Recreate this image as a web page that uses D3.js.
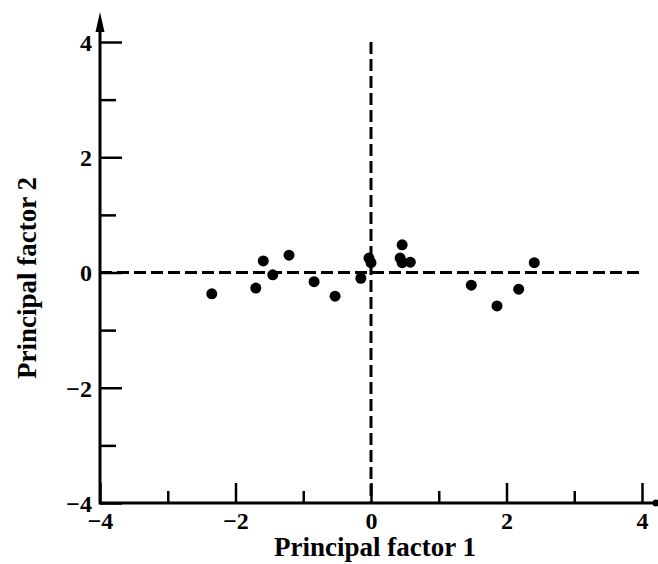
<!DOCTYPE html>
<html lang="en">
<head>
<meta charset="UTF-8">
<title>Principal factors</title>
<style>
  body { margin: 0; background: #fff; }
  text { font-family: "Liberation Serif", "Times New Roman", serif; font-weight: bold; fill: #000; }
</style>
</head>
<body>
<div class="container"></div>
<script src="https://cdn.jsdelivr.net/npm/d3@7/dist/d3.min.js"></script>
<script>
// data
const factor1 = [-2.35, -1.70, -1.59, -1.45, -1.21, -0.84, -0.53, -0.15, -0.03, 0.0, 0.46, 0.43, 0.46, 0.58, 1.48, 1.86, 2.18, 2.41]
const factor2 = [-0.37, -0.27, 0.20, -0.04, 0.30, -0.16, -0.41, -0.10, 0.25, 0.17, 0.48, 0.25, 0.17, 0.18, -0.22, -0.58, -0.29, 0.17]
const majorTicks = [-4, -2, 0, 2, 4]
const minorTicks = [-3, -1, 1, 3]

const width = 658
const height = 564

const svg = d3.select('.container').append('svg')
    .attr('width', width)
    .attr('height', height)

const x = d3.scaleLinear().domain([-4, 4]).range([100, 642])
const y = d3.scaleLinear().domain([-4, 4]).range([503, 42])

const fmt = d => d3.format('d')(d).replace('-', '\u2212')

// x axis
const xMajor = svg.append('g').attr('transform', `translate(0,${y(-4)})`)
    .call(d3.axisBottom(x).tickValues(majorTicks).tickSizeInner(-20).tickSizeOuter(0).tickFormat(fmt))
const xMinor = svg.append('g').attr('transform', `translate(0,${y(-4)})`)
    .call(d3.axisBottom(x).tickValues(minorTicks).tickSizeInner(-12).tickSizeOuter(0).tickFormat(''))

// y axis
const yMajor = svg.append('g').attr('transform', `translate(${x(-4)},0)`)
    .call(d3.axisLeft(y).tickValues(majorTicks).tickSizeInner(-22).tickSizeOuter(0).tickFormat(fmt))
const yMinor = svg.append('g').attr('transform', `translate(${x(-4)},0)`)
    .call(d3.axisLeft(y).tickValues(minorTicks).tickSizeInner(-16).tickSizeOuter(0).tickFormat(''))

svg.selectAll('.domain').remove()
svg.selectAll('.tick line').attr('stroke', '#000').attr('stroke-width', 2.5)

xMajor.selectAll('text').attr('y', 26).attr('dy', 0).attr('font-size', 24)
    .attr('font-family', '"Liberation Serif", serif').attr('font-weight', 'bold').attr('fill', '#000')
yMajor.selectAll('text').attr('x', -8).attr('dy', '0.35em').attr('font-size', 24)
    .attr('font-family', '"Liberation Serif", serif').attr('font-weight', 'bold').attr('fill', '#000')

// axis lines
svg.append('line')
    .attr('x1', x(-4)).attr('x2', 656)
    .attr('y1', y(-4)).attr('y2', y(-4))
    .attr('stroke', '#000').attr('stroke-width', 3)
svg.append('circle').attr('cx', 656).attr('cy', y(-4)).attr('r', 3.5).attr('fill', '#000')

svg.append('line')
    .attr('x1', x(-4)).attr('x2', x(-4))
    .attr('y1', y(-4) + 1.5).attr('y2', 24)
    .attr('stroke', '#000').attr('stroke-width', 3)
svg.append('path')
    .attr('d', `M${x(-4)},12 L${x(-4) - 4.5},32 L${x(-4) + 4.5},32 Z`)
    .attr('fill', '#000')

// dashed reference lines
svg.append('line')
    .attr('x1', x(-4)).attr('x2', x(4))
    .attr('y1', y(0)).attr('y2', y(0))
    .attr('stroke', '#000').attr('stroke-width', 3)
    .attr('stroke-dasharray', '12,5')
svg.append('line')
    .attr('x1', x(0)).attr('x2', x(0))
    .attr('y1', y(4)).attr('y2', y(-4))
    .attr('stroke', '#000').attr('stroke-width', 3)
    .attr('stroke-dasharray', '12,5')

// points
svg.append('g').selectAll('circle')
    .data(factor1.map((d, i) => [d, factor2[i]]))
    .join('circle')
    .attr('cx', d => x(d[0]))
    .attr('cy', d => y(d[1]))
    .attr('r', 5.5)
    .attr('fill', '#000')

// titles
svg.append('text')
    .attr('x', 375).attr('y', 556)
    .attr('text-anchor', 'middle')
    .attr('font-size', 27)
    .text('Principal factor 1')

svg.append('text')
    .attr('transform', `translate(36,278) rotate(-90)`)
    .attr('text-anchor', 'middle')
    .attr('font-size', 27)
    .text('Principal factor 2')
</script>
</body>
</html>
